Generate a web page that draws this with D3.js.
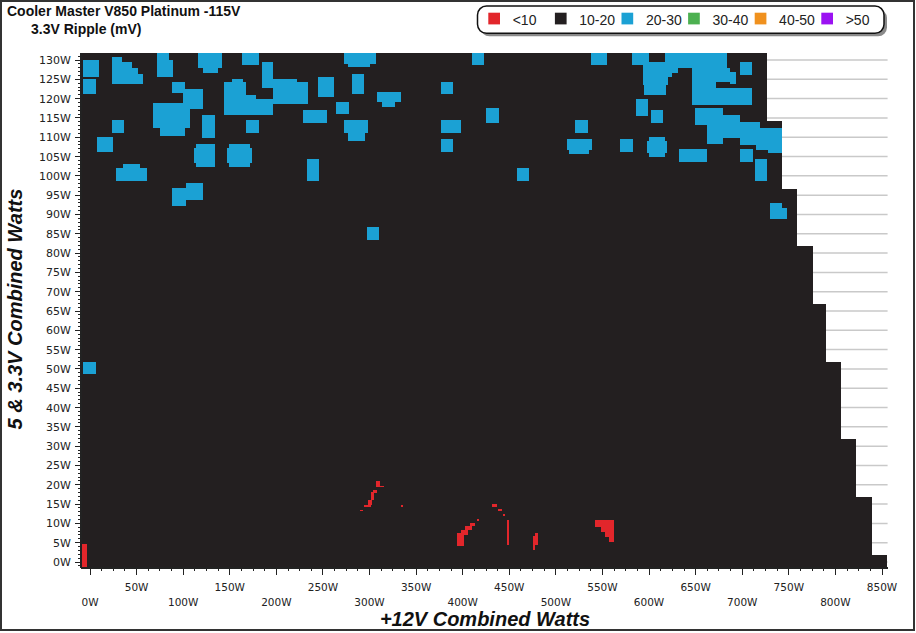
<!DOCTYPE html>
<html><head><meta charset="utf-8">
<script src="https://cdn.jsdelivr.net/npm/d3@7"></script>
<style>body{margin:0;background:#fff}svg{display:block}</style>
</head><body>
<svg id="c" width="916" height="633"></svg>
<script>
// ---------- data ----------
const categories = ['<10', '10-20', '20-30', '30-40', '40-50', '>50'];
const categoryColors = ['#e2262b', '#231f20', '#1ba1d4', '#4cb050', '#f0911e', '#9b12f2'];
const xTickValues = d3.range(0, 851, 50);
const yTickValues = d3.range(0, 131, 5);
const xMinorTicks = d3.range(0, 851, 12.5);
const yMinorTicks = d3.range(-1, 132, 1);

// tested load region (10-20 mV everywhere unless listed below)
const loadMinX = -9.7;
const loadBandY = [-1.55, 1.8, 16.8, 31.8, 51.9, 66.8, 81.8, 96.5, 114.3, 131.8];
const loadBandMaxX = [855.4, 838.9, 822.4, 806.0, 789.9, 775.6, 759.0, 743.0, 726.2];

// cells with 20-30 mV ripple  [x0, x1, y0, y1] in watts
const ripple20to30 = [
  [-7.8, 10.0, 125.5, 130.0], [-7.8, 6.1, 121.1, 125.0],
  [23.3, 57.2, 123.7, 126.5], [23.3, 52.0, 126.5, 128.0], [23.3, 45.5, 128.0, 129.5], [23.3, 34.0, 129.5, 130.7],
  [72.2, 85.2, 130.0, 131.8], [72.2, 89.4, 125.5, 130.0],
  [116.2, 142.0, 127.9, 131.8], [121.6, 137.7, 126.7, 127.9],
  [163.4, 181.4, 128.7, 131.8],
  [184.3, 196.7, 122.8, 129.6], [196.7, 234.0, 118.7, 124.4], [196.7, 221.8, 124.4, 125.0],
  [143.8, 167.4, 115.8, 124.3], [167.4, 178.2, 115.8, 120.9], [178.2, 196.7, 115.8, 119.9], [152.1, 164.5, 124.3, 125.0],
  [244.7, 261.9, 120.4, 125.6],
  [87.7, 102.0, 121.4, 124.4], [100.1, 121.6, 117.2, 122.4], [67.9, 107.3, 112.4, 118.9], [75.1, 102.0, 110.3, 112.4],
  [228.3, 254.0, 113.6, 117.1],
  [23.3, 36.8, 111.0, 114.5],
  [120.5, 134.2, 109.7, 115.8],
  [167.4, 181.4, 111.0, 114.5],
  [7.2, 25.0, 106.3, 110.1],
  [114.0, 134.2, 102.2, 108.2], [111.9, 114.0, 103.2, 107.2],
  [149.5, 171.5, 102.2, 108.2], [147.4, 173.5, 103.2, 107.2],
  [232.6, 246.1, 98.7, 104.3],
  [27.6, 60.9, 98.7, 102.0], [35.7, 53.7, 102.0, 103.0],
  [87.7, 103.2, 92.2, 96.9], [103.2, 121.6, 93.8, 98.1],
  [272.6, 306.6, 128.9, 131.8], [277.2, 300.5, 128.1, 128.9],
  [280.9, 294.4, 121.1, 126.4],
  [307.7, 333.4, 119.2, 121.8], [313.1, 327.3, 117.9, 119.2],
  [264.0, 278.3, 115.9, 119.2],
  [272.6, 298.7, 111.0, 114.5], [277.2, 295.1, 109.1, 111.0],
  [409.6, 422.8, 128.6, 131.8],
  [376.4, 389.9, 121.1, 124.4],
  [425.0, 438.9, 113.6, 117.6],
  [376.4, 398.2, 111.0, 114.5],
  [376.4, 389.9, 106.3, 109.5],
  [457.9, 471.5, 98.7, 102.1],
  [297.0, 310.5, 83.4, 86.8],
  [537.4, 554.5, 128.6, 131.8],
  // upper right cluster
  [581.8, 599.7, 128.7, 131.8], [617.1, 683.2, 127.9, 131.8], [599.7, 617.1, 127.9, 129.6],
  [593.8, 631.0, 126.6, 128.7], [593.8, 624.6, 125.6, 126.6], [593.8, 619.9, 123.5, 125.6], [594.6, 618.2, 120.9, 123.5],
  [645.7, 686.8, 124.3, 127.9], [686.8, 693.8, 123.8, 126.9],
  [645.7, 671.8, 118.3, 124.3], [671.8, 710.5, 118.3, 122.7],
  [697.6, 710.8, 126.0, 129.4],
  [586.0, 599.2, 115.6, 119.8],
  [601.7, 615.3, 113.6, 117.1],
  // middle right band
  [649.3, 679.7, 113.2, 117.5], [661.8, 679.7, 108.2, 113.2],
  [677.9, 697.6, 109.8, 115.8], [697.6, 719.0, 108.0, 114.0],
  [714.7, 742.3, 106.7, 112.3], [727.6, 742.3, 105.8, 106.7],
  [697.6, 711.2, 103.7, 106.9],
  [713.7, 726.9, 98.7, 104.3],
  [729.8, 742.3, 91.6, 93.0], [729.8, 747.7, 88.7, 91.6],
  [520.5, 534.8, 111.2, 114.5],
  [512.3, 538.4, 106.7, 109.5], [514.5, 536.0, 105.7, 106.7],
  [568.8, 583.1, 106.3, 109.5],
  [598.1, 619.6, 106.0, 109.0], [600.2, 617.5, 105.0, 110.0],
  [632.4, 662.5, 103.7, 106.9],
  [-7.8, 6.4, 48.6, 51.9]
];

// cells with <10 mV ripple
const rippleBelow10 = [
  [-8.3, -2.9, -1.55, 4.7],
  [289.8, 293.3, 13.13, 13.47], [294.4, 301.2, 14.24, 14.76], [298.0, 302.3, 14.76, 16.06],
  [301.6, 304.8, 16.06, 18.2], [304.0, 307.7, 17.8, 18.65], [306.6, 311.2, 19.5, 20.98],
  [307.7, 315.5, 19.35, 19.68],
  [333.8, 335.6, 14.32, 14.84],
  [431.1, 437.1, 14.32, 14.94], [438.2, 441.8, 13.13, 13.65], [442.9, 445.4, 11.91, 12.35],
  [415.0, 417.1, 10.62, 11.06],
  [393.6, 401.4, 4.14, 7.43], [397.8, 406.0, 6.99, 8.29], [402.5, 409.6, 8.29, 9.32], [407.8, 413.2, 9.32, 10.02],
  [447.2, 449.7, 4.40, 10.88],
  [475.4, 477.6, 3.11, 6.73], [477.6, 480.5, 4.40, 7.51],
  [542.0, 562.4, 9.06, 10.88], [548.4, 562.4, 7.77, 9.06], [552.7, 562.4, 6.47, 7.77], [557.0, 562.4, 5.18, 6.47]
];

// ---------- drawing ----------
const svg = d3.select('#c');
const x = d3.scaleLinear().domain([0, 850]).range([90, 882]);
const y = d3.scaleLinear().domain([0, 130]).range([562, 60]);
const color = d3.scaleOrdinal().domain(categories).range(categoryColors);
const plotRightW = 856;

// outer frame
svg.append('rect').attr('x', 1).attr('y', 1).attr('width', 913).attr('height', 629)
  .attr('fill', '#fff').attr('stroke', '#333').attr('stroke-width', 2);

// horizontal gridlines
svg.append('g').selectAll('line').data(yTickValues).join('line')
  .attr('x1', x(loadMinX)).attr('x2', x(plotRightW))
  .attr('y1', d => y(d)).attr('y2', d => y(d))
  .attr('stroke', '#c9c9c9').attr('stroke-width', 1.5);

// tested area (10-20 mV)
const bands = loadBandMaxX.map((mx, i) => [loadMinX, mx, loadBandY[i], loadBandY[i + 1]]);
function drawCells(cells, cat) {
  svg.append('g').attr('shape-rendering', 'crispEdges').selectAll('rect').data(cells).join('rect')
    .attr('x', d => x(d[0])).attr('width', d => x(d[1]) - x(d[0]))
    .attr('y', d => y(d[3])).attr('height', d => y(d[2]) - y(d[3]))
    .attr('fill', color(cat));
}
drawCells(bands, '10-20');
drawCells(ripple20to30, '20-30');
drawCells(rippleBelow10, '<10');

// axes
const axisColor = '#222';
const gAx = svg.append('g').attr('stroke', axisColor).attr('shape-rendering', 'crispEdges');
gAx.append('line').attr('x1', x(loadMinX)).attr('x2', x(loadMinX)).attr('y1', y(131.8)).attr('y2', y(-1.55)).attr('stroke-width', 1.5);
gAx.append('line').attr('x1', x(loadMinX)).attr('x2', x(plotRightW)).attr('y1', y(-1.55)).attr('y2', y(-1.55)).attr('stroke-width', 1.5);
gAx.selectAll('.ym').data(yMinorTicks).join('line')
  .attr('x1', x(loadMinX) - 3).attr('x2', x(loadMinX)).attr('y1', d => y(d)).attr('y2', d => y(d)).attr('stroke-width', 1);
gAx.selectAll('.yM').data(yTickValues).join('line')
  .attr('x1', x(loadMinX) - 6).attr('x2', x(loadMinX)).attr('y1', d => y(d)).attr('y2', d => y(d)).attr('stroke-width', 1);
gAx.selectAll('.xm').data(xMinorTicks).join('line')
  .attr('x1', d => x(d)).attr('x2', d => x(d)).attr('y1', y(-1.55)).attr('y2', y(-1.55) + 3.5).attr('stroke-width', 1);
gAx.selectAll('.xM').data(xTickValues).join('line')
  .attr('x1', d => x(d)).attr('x2', d => x(d)).attr('y1', y(-1.55)).attr('y2', y(-1.55) + 7).attr('stroke-width', 1);

// tick labels
svg.append('g').selectAll('text').data(yTickValues).join('text')
  .attr('x', x(loadMinX) - 10).attr('y', d => y(d) + 4)
  .attr('text-anchor', 'end').attr('font-family', 'DejaVu Sans').attr('font-size', 11)
  .attr('fill', '#222').text(d => d + 'W');
svg.append('g').selectAll('text').data(xTickValues).join('text')
  .attr('x', d => x(d)).attr('y', d => (d % 100 === 0) ? 606 : 591)
  .attr('text-anchor', 'middle').attr('font-family', 'DejaVu Sans').attr('font-size', 10.5)
  .attr('fill', '#222').text(d => d + 'W');

// axis titles
svg.append('text').attr('x', 485).attr('y', 626).attr('text-anchor', 'middle')
  .attr('font-family', 'Liberation Sans, Arial').attr('font-weight', 'bold').attr('font-style', 'italic')
  .attr('font-size', 20).attr('fill', '#111').text('+12V Combined Watts');
svg.append('text').attr('transform', 'translate(22,309) rotate(-90)').attr('text-anchor', 'middle')
  .attr('font-family', 'Liberation Sans, Arial').attr('font-weight', 'bold').attr('font-style', 'italic')
  .attr('font-size', 20).attr('fill', '#111').text('5 & 3.3V Combined Watts');

// titles
svg.append('text').attr('x', 7).attr('y', 16).attr('font-family', 'Liberation Sans, Arial')
  .attr('font-weight', 'bold').attr('font-size', 14).attr('fill', '#111').text('Cooler Master V850 Platinum -115V');
svg.append('text').attr('x', 31).attr('y', 34).attr('font-family', 'Liberation Sans, Arial')
  .attr('font-weight', 'bold').attr('font-size', 14).attr('fill', '#111').text('3.3V Ripple (mV)');

// legend
const lg = svg.append('g');
lg.append('rect').attr('x', 480.5).attr('y', 9).attr('width', 406.5).attr('height', 27.3).attr('rx', 9)
  .attr('fill', '#8a8a8a');
lg.append('rect').attr('x', 477.5).attr('y', 6).attr('width', 406.5).attr('height', 27.3).attr('rx', 9)
  .attr('fill', '#fff').attr('stroke', '#111').attr('stroke-width', 1.5);
const items = lg.selectAll('g.it').data(categories).join('g')
  .attr('transform', (d, i) => `translate(${488.3 + i * 66.6},0)`);
items.append('rect').attr('x', 0).attr('y', 12.7).attr('width', 11.7).attr('height', 11.7)
  .attr('fill', d => color(d));
items.append('text').attr('x', 24.4).attr('y', 24.5).attr('font-family', 'Liberation Sans, Arial')
  .attr('font-size', 14).attr('fill', '#222').text(d => d);
</script>
</body></html>
